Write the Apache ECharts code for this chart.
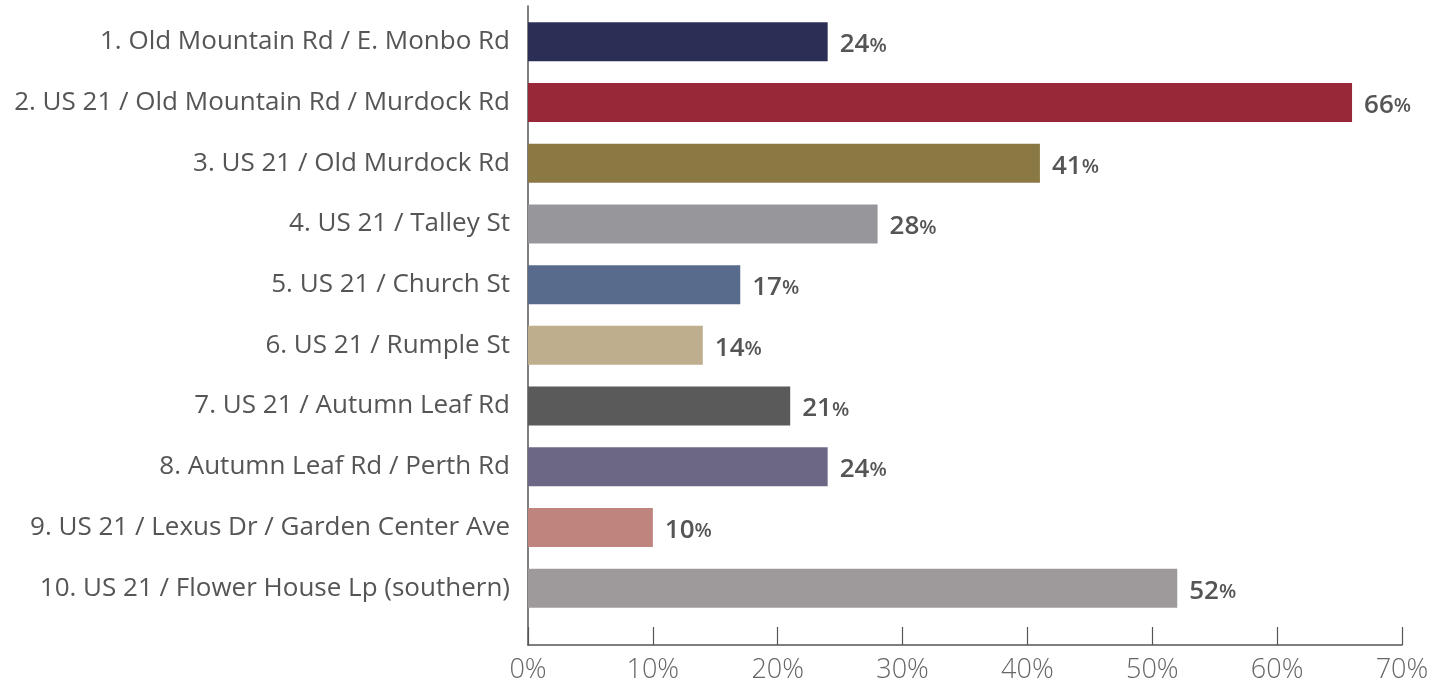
<!DOCTYPE html>
<html>
<head>
<meta charset="utf-8">
<script src="https://cdn.jsdelivr.net/npm/echarts@6/dist/echarts.min.js"></script>
<style>
  html, body { margin: 0; padding: 0; background: #fff; }
  #chart { width: 1433px; height: 687px; }
</style>
</head>
<body>
<div id="chart"></div>
<script>
// Intersections, listed top to bottom
const categories = [
  '1. Old Mountain Rd / E. Monbo Rd',
  '2. US 21 / Old Mountain Rd / Murdock Rd',
  '3. US 21 / Old Murdock Rd',
  '4. US 21 / Talley St',
  '5. US 21 / Church St',
  '6. US 21 / Rumple St',
  '7. US 21 / Autumn Leaf Rd',
  '8. Autumn Leaf Rd / Perth Rd',
  '9. US 21 / Lexus Dr / Garden Center Ave',
  '10. US 21 / Flower House Lp (southern)'
];
// Percentage for each intersection
const values = [24, 66, 41, 28, 17, 14, 21, 24, 10, 52];
const barColors = ['#2c2f55', '#982838', '#8b7943', '#97979b', '#586b8c',
                   '#bfae8e', '#5a5a5a', '#6c6785', '#c0847e', '#9e9a9b'];
const xTicks = [0, 10, 20, 30, 40, 50, 60, 70];

const FONT = '"Open Sans", sans-serif';
const xMin = xTicks[0], xMax = xTicks[xTicks.length - 1], xStep = xTicks[1] - xTicks[0];

const chart = echarts.init(document.getElementById('chart'), null, { renderer: 'canvas' });
chart.setOption({
  animation: false,
  grid: [
    { left: 528, right: 31, top: 11.5, height: 607 },   // bars
    { left: 528, right: 31, top: 6, bottom: 42 }         // frame axes
  ],
  xAxis: [
    { gridIndex: 0, type: 'value', min: xMin, max: xMax, interval: xStep, show: false },
    {
      gridIndex: 1, type: 'value', min: xMin, max: xMax, interval: xStep,
      axisLine: { show: true, lineStyle: { color: '#555', width: 1.5 } },
      axisTick: { show: true, inside: true, length: 18, lineStyle: { color: '#555', width: 1.2 } },
      splitLine: { show: false },
      axisLabel: {
        margin: 12, color: '#666', fontFamily: FONT, fontSize: 27, fontWeight: 300,
        formatter: v => v + '%'
      }
    }
  ],
  yAxis: [
    {
      gridIndex: 0, type: 'category', data: categories, inverse: true,
      axisLine: { show: false }, axisTick: { show: false },
      axisLabel: { margin: 18, color: '#555', fontFamily: FONT, fontSize: 26, padding: [6, 0, 0, 0] }
    },
    {
      gridIndex: 1, type: 'value', min: 0, max: 1,
      axisLine: { show: true, lineStyle: { color: '#555', width: 1.5 } },
      axisTick: { show: false }, axisLabel: { show: false }, splitLine: { show: false }
    }
  ],
  series: [{
    type: 'bar',
    xAxisIndex: 0, yAxisIndex: 0,
    data: values.map((v, i) => ({ value: v, itemStyle: { color: barColors[i] } })),
    barWidth: 39,
    label: {
      show: true, position: 'right', distance: 12,
      formatter: p => '{n|' + p.value + '}{p|%}',
      rich: {
        n: { color: '#555', fontFamily: FONT, fontSize: 26, fontWeight: 600, padding: [6, 0, 0, 0] },
        p: { color: '#555', fontFamily: FONT, fontSize: 20, fontWeight: 600, padding: [8, 0, 0, 0] }
      }
    }
  }]
});
</script>
</body>
</html>
